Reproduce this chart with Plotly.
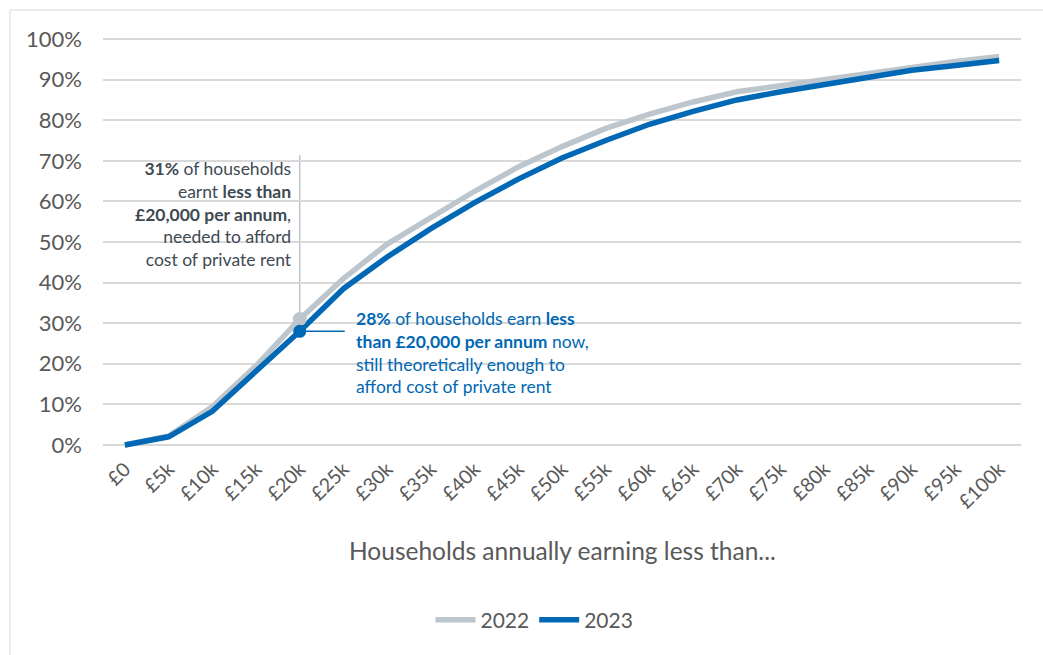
import plotly.graph_objects as go

# Income thresholds (£k) and cumulative share of households below each
income_labels = ["£0", "£5k", "£10k", "£15k", "£20k", "£25k", "£30k", "£35k", "£40k",
                 "£45k", "£50k", "£55k", "£60k", "£65k", "£70k", "£75k", "£80k",
                 "£85k", "£90k", "£95k", "£100k"]
share_2022 = [0, 2.2, 9.4, 19.5, 31, 41, 49.5, 56, 62.5, 68.5, 73.5, 78, 81.5,
              84.5, 87, 88.5, 90, 91.8, 93.2, 94.5, 95.7]
share_2023 = [0, 2.0, 8.3, 18, 28, 38.5, 46.3, 53.3, 59.7, 65.5, 70.7, 75, 79,
              82.2, 85, 87, 88.7, 90.7, 92.3, 93.5, 94.7]
y_ticks = [0, 10, 20, 30, 40, 50, 60, 70, 80, 90, 100]
highlight = 4  # the £20k threshold

GREY = "#BDC6CD"
BLUE = "#0068B4"
FONT = "Lato"

x_idx = list(range(len(income_labels)))

fig = go.Figure()
fig.add_trace(go.Scatter(x=x_idx, y=share_2022, name="2022", mode="lines",
                         line=dict(color=GREY, width=5.5), cliponaxis=False))
fig.add_trace(go.Scatter(x=x_idx, y=share_2023, name="2023", mode="lines",
                         line=dict(color=BLUE, width=5.5), cliponaxis=False))

# Callout markers at £20k
fig.add_trace(go.Scatter(x=[x_idx[highlight]], y=[share_2022[highlight]], mode="markers",
                         marker=dict(color=GREY, size=14), showlegend=False, cliponaxis=False))
fig.add_trace(go.Scatter(x=[x_idx[highlight]], y=[share_2023[highlight]], mode="markers",
                         marker=dict(color=BLUE, size=13), showlegend=False, cliponaxis=False))

# Leader lines for the callouts
fig.add_shape(type="line", x0=x_idx[highlight], x1=x_idx[highlight],
              y0=share_2022[highlight], y1=71.4, line=dict(color="#BFC7CE", width=1.5),
              layer="below")
fig.add_shape(type="line", x0=x_idx[highlight], x1=5.03,
              y0=share_2023[highlight], y1=share_2023[highlight],
              line=dict(color=BLUE, width=1.5), layer="below")

fig.add_annotation(
    x=3.86, y=71.3, xref="x", yref="y", xanchor="right", yanchor="top", align="right",
    showarrow=False,
    text=(f"<b>{share_2022[highlight]:.0f}%</b> of households<br>earnt <b>less than</b><br>"
          "<b>£20,000 per annum</b>,<br>needed to afford<br>cost of private rent"),
    font=dict(family=FONT, size=17.5, color="#404A53"))
fig.add_annotation(
    x=5.24, y=34.2, xref="x", yref="y", xanchor="left", yanchor="top", align="left",
    showarrow=False,
    text=(f"<b>{share_2023[highlight]:.0f}%</b> of households earn <b>less</b><br>"
          "<b>than £20,000 per annum</b> now,<br>still theoretically enough to<br>"
          "afford cost of private rent"),
    font=dict(family=FONT, size=17.5, color=BLUE))

# Axis title
fig.add_annotation(x=0.5, y=-0.244, xref="paper", yref="paper", showarrow=False,
                   xanchor="center", yanchor="middle",
                   text="Households annually earning less than...",
                   font=dict(family=FONT, size=24.5, color="#595959"))

# Outer chart frame
fig.add_shape(type="rect", xref="paper", yref="paper",
              x0=(10 - 103) / 918, x1=1.05, y0=-1.0, y1=(449 - 10) / 414,
              line=dict(color="#D9D9D9", width=1), layer="below")

fig.update_layout(
    width=1043, height=655,
    margin=dict(l=103, r=22, t=35, b=206),
    paper_bgcolor="white", plot_bgcolor="white",
    font=dict(family=FONT, color="#595959"),
    showlegend=True,
    legend=dict(orientation="h", x=0.47, xanchor="center", y=-0.413, yanchor="middle",
                font=dict(family=FONT, size=21, color="#595959"), itemwidth=40),
    xaxis=dict(range=[-0.5, 20.5], tickmode="array", tickvals=x_idx, ticktext=income_labels,
               tickangle=-45, tickfont=dict(family=FONT, size=19.5, color="#595959"),
               showgrid=False, zeroline=False, showline=False, ticks="",
               ticklabelstandoff=4),
    yaxis=dict(range=[-1, 101], tickmode="array", tickvals=y_ticks,
               ticktext=[f"{v}%" for v in y_ticks],
               tickfont=dict(family=FONT, size=22, color="#595959"),
               showgrid=True, gridcolor="#D9D9D9", gridwidth=1.5, zeroline=False,
               showline=False, ticks="", ticklabelstandoff=20),
)

fig.write_html("out.html")
